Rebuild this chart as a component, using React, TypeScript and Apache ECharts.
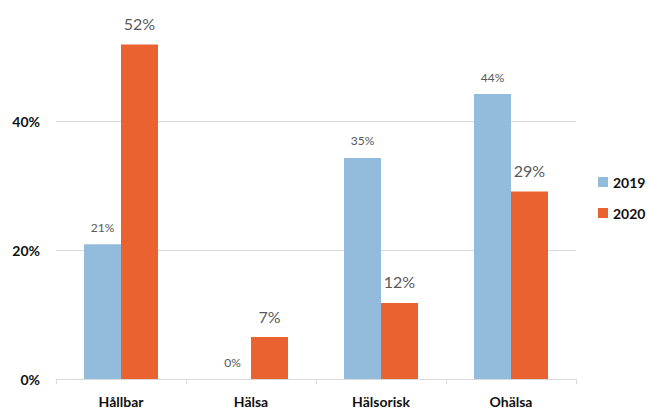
import React, { useEffect, useRef } from "react";
import * as echarts from "echarts";

const categories = ["Hållbar", "Hälsa", "Hälsorisk", "Ohälsa"];
const values2019 = [20.9, 0, 34.3, 44.2];
const values2020 = [51.9, 6.5, 11.8, 29.1];
const labels2019 = ["21%", "0%", "35%", "44%"];
const labels2020 = ["52%", "7%", "12%", "29%"];
const yTicks = [0, 20, 40];

const FONT = "Lato, 'Open Sans', sans-serif";

export default function App() {
  const ref = useRef<HTMLDivElement>(null);
  useEffect(() => {
    if (!ref.current) return;
    const chart = echarts.init(ref.current, undefined, { renderer: "svg" });
    chart.setOption({
      animation: false,
      textStyle: { fontFamily: FONT },
      grid: { left: 56, right: 71, top: 18, bottom: 31, containLabel: false },
      legend: {
        orient: "vertical",
        left: 598,
        top: 174,
        padding: 0,
        itemWidth: 10,
        itemHeight: 10,
        itemGap: 15,
        icon: "rect",
        textStyle: { fontSize: 14, fontWeight: "bold", color: "#111", fontFamily: FONT, lineHeight: 16 },
        data: ["2019", "2020"],
      },
      xAxis: {
        type: "category",
        data: categories,
        boundaryGap: true,
        axisLine: { show: true, lineStyle: { color: "#d9d9d9", width: 1 } },
        axisTick: { show: true, length: 5, lineStyle: { color: "#d9d9d9" } },
        axisLabel: { margin: 15, fontSize: 14, fontWeight: "bold", color: "#111", fontFamily: FONT },
      },
      yAxis: {
        type: "value",
        min: 0,
        max: 56,
        interval: 20,
        axisLine: { show: false },
        axisTick: { show: false },
        axisLabel: {
          margin: 16,
          fontSize: 14,
          fontWeight: "bold",
          color: "#111",
          fontFamily: FONT,
          showMaxLabel: false,
          formatter: (v: number) => (yTicks.includes(v) ? v + "%" : ""),
        },
        splitLine: { show: true, showMinLine: false, showMaxLine: false, lineStyle: { color: "#d9d9d9", width: 1 } },
      },
      series: [
        {
          name: "2019",
          type: "bar",
          data: values2019,
          barWidth: 37,
          barGap: "0%",
          itemStyle: { color: "#93bbdb" },
          label: {
            show: true,
            position: "top",
            distance: 11,
            fontSize: 12,
            color: "#595959",
            fontFamily: FONT,
            formatter: (p: any) => labels2019[p.dataIndex],
          },
        },
        {
          name: "2020",
          type: "bar",
          data: values2020,
          barWidth: 37,
          barGap: "0%",
          itemStyle: { color: "#e9622f" },
          label: {
            show: true,
            position: "top",
            distance: 13,
            fontSize: 16,
            color: "#595959",
            fontFamily: FONT,
            formatter: (p: any) => labels2020[p.dataIndex],
          },
        },
      ],
    });
    return () => chart.dispose();
  }, []);
  return (
    <div
      ref={ref}
      style={{ position: "fixed", left: 0, top: 0, width: 647, height: 410, background: "#fff" }}
    />
  );
}
